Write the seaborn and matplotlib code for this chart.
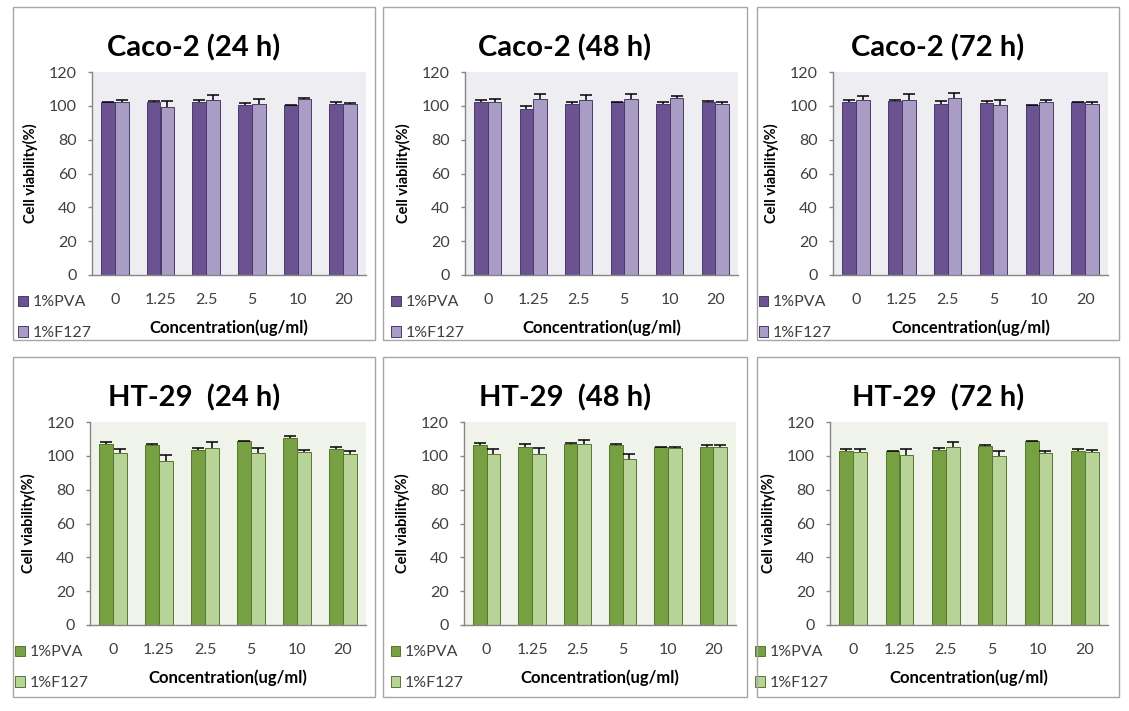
import numpy as np
import pandas as pd
import matplotlib
matplotlib.use('Agg')
import matplotlib.pyplot as plt
from matplotlib.patches import Rectangle
import seaborn as sns

# concentrations on the x axis and the two formulations
concentrations = ['0', '1.25', '2.5', '5', '10', '20']
formulations = ['1%PVA', '1%F127']

# cell viability (%) and upper error bar
caco_24_pva = [102.0, 102.5, 102.5, 100.3, 100.3, 101.0]
caco_24_pva_err = [0.4, 0.3, 1.0, 1.3, 0.3, 1.5]
caco_24_f127 = [102.0, 99.6, 103.5, 101.0, 104.0, 101.0]
caco_24_f127_err = [1.6, 3.4, 2.8, 2.8, 0.4, 0.5]

caco_48_pva = [102.0, 98.4, 101.0, 102.0, 100.8, 102.5]
caco_48_pva_err = [1.4, 1.4, 1.5, 0.3, 1.5, 0.3]
caco_48_f127 = [102.3, 103.9, 103.7, 103.9, 104.7, 101.0]
caco_48_f127_err = [2.0, 3.3, 2.7, 2.8, 1.2, 1.5]

caco_72_pva = [102.5, 103.0, 101.0, 101.8, 100.2, 102.0]
caco_72_pva_err = [1.0, 0.3, 1.6, 1.2, 0.3, 0.3]
caco_72_f127 = [103.6, 103.5, 104.5, 100.2, 102.5, 100.8]
caco_72_f127_err = [2.0, 3.7, 2.8, 3.5, 1.0, 1.6]

ht_24_pva = [107.0, 106.3, 103.5, 108.5, 110.5, 104.0]
ht_24_pva_err = [1.2, 0.4, 1.2, 0.3, 1.0, 1.2]
ht_24_f127 = [101.8, 97.0, 104.7, 101.8, 102.0, 101.2]
ht_24_f127_err = [2.0, 3.2, 3.5, 2.8, 1.2, 1.4]

ht_48_pva = [106.2, 105.5, 107.0, 106.3, 105.0, 105.0]
ht_48_pva_err = [1.4, 1.2, 0.4, 0.4, 0.3, 1.2]
ht_48_f127 = [101.3, 101.3, 106.7, 98.3, 104.5, 105.4]
ht_48_f127_err = [2.6, 3.3, 2.8, 3.0, 0.8, 1.2]

ht_72_pva = [102.8, 102.8, 103.5, 106.0, 108.5, 102.8]
ht_72_pva_err = [1.2, 0.3, 1.2, 0.3, 0.3, 1.2]
ht_72_f127 = [102.0, 100.6, 105.3, 99.8, 101.4, 102.0]
ht_72_f127_err = [2.2, 3.3, 3.0, 3.0, 1.4, 1.4]

titles = ['Caco-2 (24 h)', 'Caco-2 (48 h)', 'Caco-2 (72 h)',
          'HT-29  (24 h)', 'HT-29  (48 h)', 'HT-29  (72 h)']

panels = [
    (caco_24_pva, caco_24_pva_err, caco_24_f127, caco_24_f127_err),
    (caco_48_pva, caco_48_pva_err, caco_48_f127, caco_48_f127_err),
    (caco_72_pva, caco_72_pva_err, caco_72_f127, caco_72_f127_err),
    (ht_24_pva, ht_24_pva_err, ht_24_f127, ht_24_f127_err),
    (ht_48_pva, ht_48_pva_err, ht_48_f127, ht_48_f127_err),
    (ht_72_pva, ht_72_pva_err, ht_72_f127, ht_72_f127_err),
]

purple = {'bars': ['#6b5391', '#a99cc5'], 'edge': '#4b3a68', 'bg': '#eeedf2'}
green = {'bars': ['#77a043', '#b8d398'], 'edge': '#557530', 'bg': '#f0f3ea'}

sns.set_theme(style='white')
plt.rcParams['font.family'] = ['Lato', 'DejaVu Sans']

W, H = 1129, 711
fig = plt.figure(figsize=(W / 100, H / 100), dpi=100)

# layout in pixels (left, right) of plot areas and panel frames
ax_x = [[92, 366], [465, 738], [833, 1108], [90, 366], [464, 736], [830, 1108]]
ax_y = [(72, 275), (72, 275), (72, 275), (422, 625), (422, 625), (422, 625)]
frame_x = [(13, 375), (383, 747), (757, 1119)]
frame_y = [(7, 340), (357, 697)]

for i, (pva, pva_err, f127, f127_err) in enumerate(panels):
    row, col = divmod(i, 3)
    scheme = purple if row == 0 else green

    # panel frame
    fx0, fx1 = frame_x[col]
    fy0, fy1 = frame_y[row]
    fig.patches.append(Rectangle((fx0 / W, 1 - fy1 / H), (fx1 - fx0) / W, (fy1 - fy0) / H,
                                 transform=fig.transFigure, fill=False,
                                 edgecolor='#a6a6a6', linewidth=1.0))
    fig.text((fx0 + fx1) / 2 / W, 1 - (fy0 + 41) / H, titles[i], ha='center', va='center',
             fontsize=21, fontweight='bold', color='black')

    x0, x1 = ax_x[i]
    y0, y1 = ax_y[i]
    ax = fig.add_axes([x0 / W, 1 - y1 / H, (x1 - x0) / W, (y1 - y0) / H])
    ax.set_facecolor(scheme['bg'])

    df = pd.DataFrame({
        'conc': concentrations * 2,
        'form': [formulations[0]] * 6 + [formulations[1]] * 6,
        'value': pva + f127,
        'err': pva_err + f127_err,
    })
    sns.barplot(data=df, x='conc', y='value', hue='form', order=concentrations,
                hue_order=formulations, palette=scheme['bars'], width=0.6,
                errorbar=None, edgecolor=scheme['edge'], linewidth=0.7,
                saturation=1, ax=ax)

    # upper-only error bars on each bar
    for cont, errs in zip(ax.containers, [pva_err, f127_err]):
        xs = [p.get_x() + p.get_width() / 2 for p in cont]
        ys = [p.get_height() for p in cont]
        _, caps, _ = ax.errorbar(xs, ys, yerr=[np.zeros(len(errs)), errs], fmt='none',
                                 ecolor='black', elinewidth=1.1, capsize=4, capthick=1.1)
        for c in caps:
            if np.allclose(c.get_ydata(), ys):
                c.set_visible(False)

    ax.set_ylim(0, 120)
    ax.set_yticks(range(0, 121, 20))
    ax.set_xlim(-0.5, 5.5)
    for s in ['top', 'right']:
        ax.spines[s].set_visible(False)
    for s in ['left', 'bottom']:
        ax.spines[s].set_color('#868686')
        ax.spines[s].set_linewidth(1.0)
    ax.tick_params(axis='y', length=3, width=1, color='#868686', pad=8,
                   labelsize=11.5, labelcolor='#404040', left=True)
    ax.tick_params(axis='x', length=0, pad=13, labelsize=11.5, labelcolor='#404040')
    ax.set_ylabel('Cell viability(%)', fontsize=10.5, fontweight='bold', color='black', labelpad=8)
    ax.set_xlabel('Concentration(ug/ml)', fontsize=12, fontweight='bold', color='black', labelpad=9)

    ax.legend(loc='upper left', bbox_to_anchor=(-0.27, -0.1), frameon=False,
              fontsize=11.5, handlelength=0.6, handleheight=0.6, handletextpad=0.3,
              labelspacing=1.05, borderpad=0, borderaxespad=0, labelcolor='#404040')

fig.savefig('out.png', dpi=100, facecolor='white')
